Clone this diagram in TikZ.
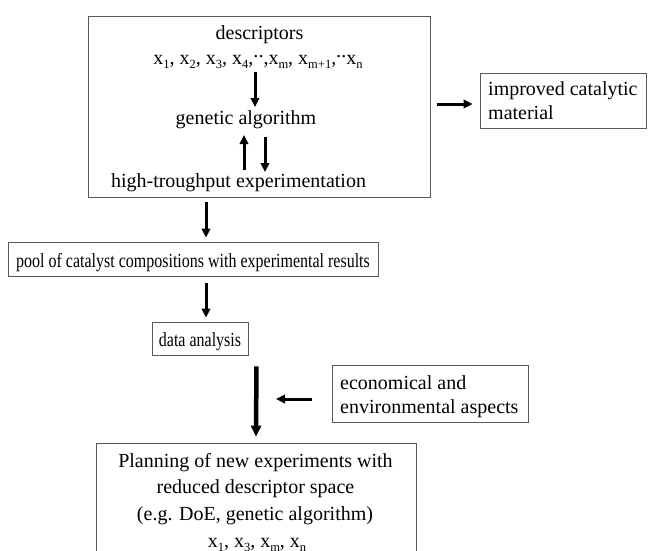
\documentclass[tikz,border=0pt]{standalone}
\usepackage{fontspec}
\setmainfont{Liberation Serif}
\newfontfamily\condensed[FakeStretch=0.8]{Liberation Serif}
\usetikzlibrary{arrows.meta}
\newcommand{\dd}{\raisebox{0.75ex}{.\kern0.2pt.}}
\newcommand{\sbs}[1]{\raisebox{-0.45ex}{\fontsize{12.5}{12.5}\selectfont #1}}
\begin{document}
\begin{tikzpicture}[x=1pt,y=-1pt,
  frame/.style={draw=black!65,line width=0.9pt,inner sep=0pt,rectangle},
  txt/.style={inner sep=0pt,anchor=base,font=\fontsize{20}{24}\selectfont},
  txtl/.style={inner sep=0pt,anchor=base west,font=\fontsize{20}{24}\selectfont},
  arr/.style={line width=3pt,-{Triangle[length=9pt,width=8.5pt]}},
  bigarr/.style={line width=4.5pt,-{Triangle[length=11pt,width=10pt]}}]
\useasboundingbox (0,0) rectangle (648,550);
\clip (0,0) rectangle (648,550);
\fill[white] (0,0) rectangle (648,550);
% top box
\node[frame,minimum width=342pt,minimum height=181pt] (top) at (259,106.5) {};
\node[txt] (desc) at (259.5,39) {descriptors};
\node[txt] (xrow) at (258,64) {x\sbs{1}, x\sbs{2}, x\sbs{3}, x\sbs{4},\dd,x\sbs{m}, x\sbs{m+1},\dd x\sbs{n}};
\node[txt] (gen) at (246,124) {genetic algorithm};
\node[txt] (hte) at (238.5,187) {high-troughput experimentation};
\draw[arr] (255,72) coordinate (a1s) -- (255,107) coordinate (a1e);
\draw[arr] (244,170) coordinate (a2s) -- (244,135) coordinate (a2e);
\draw[arr] (265,137) coordinate (a3s) -- (265,172) coordinate (a3e);
% improved
\node[frame,minimum width=166pt,minimum height=55pt] (imp) at (563,100.5) {};
\node[txtl] (imp1) at (488,95) {improved catalytic};
\node[txtl] (imp2) at (488,119) {material};
\draw[arr] ([shift={(7pt,2.5pt)}]top.east) -- ([shift={(-7pt,-3.5pt)}]imp.west);
% pool
\node[frame,minimum width=370pt,minimum height=34pt] (pool) at (193,259) {};
\node[txt,font=\fontsize{20}{24}\condensed] (pooltxt) at (193,267) {pool of catalyst compositions with experimental results};
\draw[arr] ([shift={(-53pt,-5pt)}]top.south) -- ([shift={(13pt,4pt)}]pool.north);
% data analysis
\node[frame,minimum width=96pt,minimum height=33pt] (data) at (200,338.5) {};
\node[txt,font=\fontsize{20}{24}\condensed] (datatxt) at (200,346) {data analysis};
\draw[arr] ([shift={(13pt,-7pt)}]pool.south) -- ([shift={(6pt,4pt)}]data.north);
% economical
\node[frame,minimum width=196pt,minimum height=57pt] (econ) at (430,393.5) {};
\node[txtl] (econ1) at (340,389) {economical and};
\node[txtl] (econ2) at (340,413) {environmental aspects};
% planning
\node[frame,minimum width=320pt,minimum height=140pt] (plan) at (256,513) {};
\node[txt] (pl1) at (255.5,467) {Planning of new experiments with};
\node[txt] (pl2) at (255.5,493) {reduced descriptor space};
\node[txt] (pl3) at (255,520) {(e.g. DoE, genetic algorithm)};
\node[txt] (pl4) at (257,547) {x\sbs{1}, x\sbs{3}, x\sbs{m}, x\sbs{n}};
\draw[bigarr] ([shift={(8pt,-11pt)}]data.south east) -- ([yshift=6pt]plan.north);
\coordinate (join) at (276,399);
\draw[arr] ([shift={(-20pt,-5.5pt)}]econ.west) -- (join);
\end{tikzpicture}
\end{document}
